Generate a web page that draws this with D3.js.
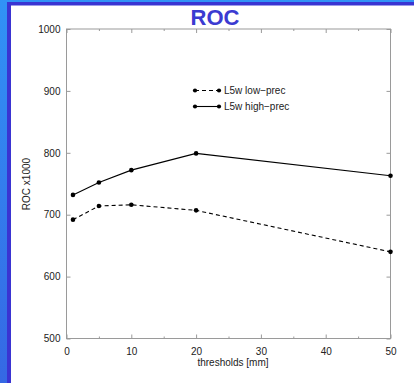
<!DOCTYPE html>
<html>
<head>
<meta charset="utf-8">
<script src="https://cdn.jsdelivr.net/npm/d3@7"></script>
<style>
  html, body { margin: 0; padding: 0; }
  body { width: 414px; height: 383px; overflow: hidden; }
  text { font-family: "Liberation Sans", Arial, sans-serif; }
</style>
</head>
<body>
<div id="chart"></div>
<script>
// data
var thresholds = [1, 5, 10, 20, 50];
var lowPrec = [692, 714, 716, 707, 640];
var highPrec = [732, 752, 772, 799, 763];
var seriesNames = ["L5w low\u2212prec", "L5w high\u2212prec"];
var xTicks = [0, 10, 20, 30, 40, 50];
var xMinor = [5, 15, 25, 35, 45];
var yTicks = [500, 600, 700, 800, 900, 1000];

var width = 414, height = 383;
var padding = { top: 29, right: 23.5, bottom: 44.5, left: 66.5 };

var svg = d3.select("#chart")
    .append("svg")
    .attr("width", width)
    .attr("height", height);

// slide background
var defs = svg.append("defs");
var grad = defs.append("linearGradient")
    .attr("id", "bg")
    .attr("x1", 0).attr("y1", 0).attr("x2", 0).attr("y2", 1);
grad.append("stop").attr("offset", "0%").attr("stop-color", "#3192f6");
grad.append("stop").attr("offset", "100%").attr("stop-color", "#3568e4");

svg.append("rect")
    .attr("width", width).attr("height", height)
    .attr("fill", "url(#bg)");
svg.append("rect")
    .attr("x", 7).attr("y", 2)
    .attr("width", width).attr("height", height)
    .attr("fill", "#3a34d2");
svg.append("rect")
    .attr("x", 11).attr("y", 5.5)
    .attr("width", width).attr("height", height)
    .attr("fill", "#ffffff");

svg.append("text")
    .attr("x", 215)
    .attr("y", 25)
    .attr("text-anchor", "middle")
    .attr("font-size", 22)
    .attr("font-weight", "bold")
    .attr("fill", "#3b3bd1")
    .text("ROC");

var plotW = width - padding.left - padding.right;
var plotH = height - padding.top - padding.bottom;

var xScale = d3.scaleLinear().domain([0, 50]).range([0, plotW]);
var yScale = d3.scaleLinear().domain([500, 1000]).range([plotH, 0]);

var g = svg.append("g")
    .attr("transform", "translate(" + padding.left + "," + padding.top + ")");

var frameColor = "#9a9a9a";

// ticks on all four sides, pointing inward
function addTicks(axis, sel) {
    sel.call(axis);
    sel.select(".domain").remove();
    sel.selectAll(".tick line").attr("stroke", frameColor);
    sel.selectAll("text")
        .attr("font-size", 10)
        .attr("fill", "#222")
        .style("font-family", "'Liberation Sans', Arial, sans-serif");
}

addTicks(d3.axisBottom(xScale).tickValues(xTicks).tickSize(-4).tickPadding(9).tickFormat(d3.format("d")),
    g.append("g").attr("transform", "translate(0," + plotH + ")"));
addTicks(d3.axisBottom(xScale).tickValues(xMinor).tickSize(-2).tickFormat(""),
    g.append("g").attr("transform", "translate(0," + plotH + ")"));
addTicks(d3.axisTop(xScale).tickValues(xTicks).tickSize(-4).tickFormat(""),
    g.append("g"));
addTicks(d3.axisTop(xScale).tickValues(xMinor).tickSize(-2).tickFormat(""),
    g.append("g"));
addTicks(d3.axisLeft(yScale).tickValues(yTicks).tickSize(-4).tickPadding(6).tickFormat(d3.format("d")),
    g.append("g"));
addTicks(d3.axisRight(yScale).tickValues(yTicks).tickSize(-4).tickFormat(""),
    g.append("g").attr("transform", "translate(" + plotW + ",0)"));

g.append("rect")
    .attr("width", plotW)
    .attr("height", plotH)
    .attr("fill", "none")
    .attr("stroke", frameColor)
    .attr("stroke-width", 1);

// axis titles
svg.append("text")
    .attr("x", 233)
    .attr("y", 366)
    .attr("text-anchor", "middle")
    .attr("font-size", 10)
    .attr("fill", "#222")
    .text("thresholds [mm]");

svg.append("text")
    .attr("transform", "translate(30,184) rotate(-90)")
    .attr("text-anchor", "middle")
    .attr("font-size", 10)
    .attr("fill", "#222")
    .text("ROC x1000");

// series
var dataset = [lowPrec, highPrec];
var dashes = ["4,3", null];

var linePath = d3.line()
    .x(function(d, i) { return xScale(thresholds[i]); })
    .y(function(d) { return yScale(d); });

for (var i = 0; i < dataset.length; i++) {
    g.append("path")
        .attr("d", linePath(dataset[i]))
        .attr("fill", "none")
        .attr("stroke", "#000")
        .attr("stroke-width", 1.1)
        .attr("stroke-dasharray", dashes[i]);

    g.append("g")
        .selectAll("circle")
        .data(dataset[i])
        .enter()
        .append("circle")
        .attr("r", 2.3)
        .attr("fill", "#000")
        .attr("cx", function(d, j) { return xScale(thresholds[j]); })
        .attr("cy", function(d) { return yScale(d); });
}

// legend
var legend = svg.append("g");
for (var k = 0; k < seriesNames.length; k++) {
    var ly = 90.5 + k * 16;
    legend.append("line")
        .attr("x1", 195).attr("x2", 219)
        .attr("y1", ly).attr("y2", ly)
        .attr("stroke", "#000")
        .attr("stroke-width", 1.1)
        .attr("stroke-dasharray", dashes[k]);
    legend.selectAll(null)
        .data([195, 219])
        .enter()
        .append("circle")
        .attr("cx", function(d) { return d; })
        .attr("cy", ly)
        .attr("r", 2.1)
        .attr("fill", "#000");
    legend.append("text")
        .attr("x", 224)
        .attr("y", ly + 3.5)
        .attr("font-size", 10)
        .attr("fill", "#222")
        .text(seriesNames[k]);
}
</script>
</body>
</html>
